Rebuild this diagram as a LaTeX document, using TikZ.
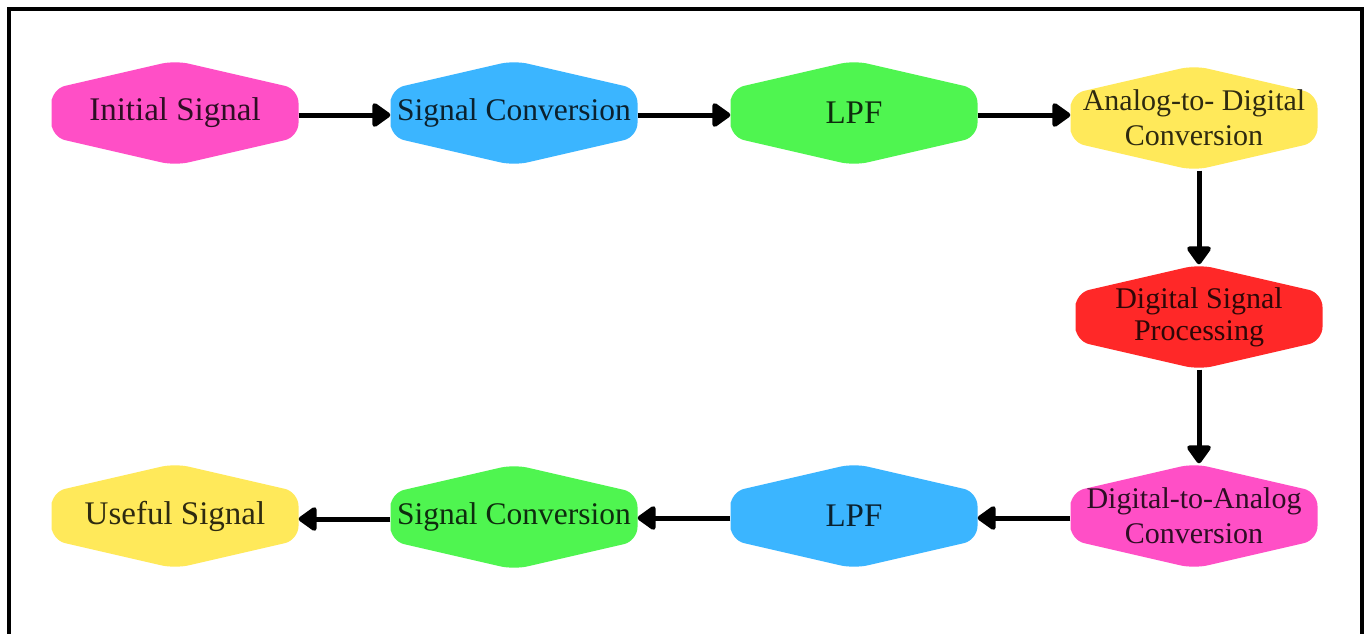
\documentclass[tikz,border=0pt]{standalone}
\usepackage{fontspec}
\setmainfont{Liberation Serif}
\usetikzlibrary{arrows.meta}

\definecolor{hexpink}{HTML}{FF4FC6}
\definecolor{hexblue}{HTML}{3BB5FF}
\definecolor{hexgreen}{HTML}{4FF550}
\definecolor{hexyellow}{HTML}{FFE95A}
\definecolor{hexred}{HTML}{FF2828}

\tikzset{
  hexbox/.style={
    rectangle, draw=none, minimum width=247pt, minimum height=105pt,
    inner sep=2pt, align=center, text=black!82!#1,
    font=\fontsize{33}{36}\selectfont,
    path picture={
      \fill[#1, rounded corners=14pt]
        (path picture bounding box.west)
        -- ([yshift=24pt]path picture bounding box.west)
        -- (path picture bounding box.north)
        -- ([yshift=24pt]path picture bounding box.east)
        -- ([yshift=-24pt]path picture bounding box.east)
        -- (path picture bounding box.south)
        -- ([yshift=-24pt]path picture bounding box.west)
        -- cycle;
    }
  },
  twoline/.style={font=\fontsize{30}{35}\selectfont},
  tightline/.style={font=\fontsize{30}{32}\selectfont},
  midline/.style={font=\fontsize{31.5}{34}\selectfont},
  flow/.style={line width=5pt, -{Triangle[width=27pt,length=20pt,round]}},
  frameline/.style={line width=4pt, line join=miter}
}

\begin{document}
\begin{tikzpicture}[x=1pt, y=-1pt]
  \useasboundingbox (0,0) rectangle (1368,633);
  \fill[white] (0,0) rectangle (1368,633);

  % outer frame, open at the bottom
  \draw[frameline] (9,640) -- (9,9) -- (1362,9) -- (1362,640);

  % upper chain
  \node[hexbox=hexpink] (init) at (175,113) {Initial Signal};
  \node[hexbox=hexblue, midline] (conv1) at (514,113) {Signal Conversion};
  \node[hexbox=hexgreen] (lpf1) at (854,113) {LPF};
  \node[hexbox=hexyellow, twoline] (adc) at (1194,118) {Analog-to- Digital\\Conversion};

  % processing stage
  \node[hexbox=hexred, tightline] (dsp) at (1199,317) {Digital Signal\\Processing};

  % lower chain
  \node[hexbox=hexpink, twoline] (dac) at (1194,516) {Digital-to-Analog\\Conversion};
  \node[hexbox=hexblue] (lpf2) at (854,516) {LPF};
  \node[hexbox=hexgreen, midline] (conv2) at (514,517) {Signal Conversion};
  \node[hexbox=hexyellow] (useful) at (175,516) {Useful Signal};

  % connectors
  \draw[flow] ([yshift=-2pt]init.east) -- ([yshift=-2pt]conv1.west);
  \draw[flow] ([yshift=-2pt]conv1.east) -- ([yshift=-2pt]lpf1.west);
  \draw[flow] ([yshift=-2pt]lpf1.east) -- ([yshift=-2pt]lpf1.east -| adc.west);
  \draw[flow] (adc.south -| dsp.north) -- (dsp.north);
  \draw[flow] (dsp.south) -- (dsp.south |- dac.north);
  \draw[flow] ([yshift=-2pt]dac.west) -- ([yshift=-2pt]dac.west -| lpf2.east);
  \draw[flow] ([yshift=-2pt]lpf2.west) -- ([yshift=-2pt]lpf2.west -| conv2.east);
  \draw[flow] ([yshift=-2pt]conv2.west) -- ([yshift=-2pt]conv2.west -| useful.east);
\end{tikzpicture}
\end{document}
